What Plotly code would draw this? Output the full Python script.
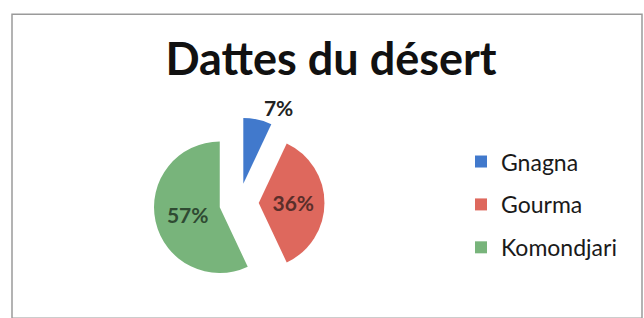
import plotly.graph_objects as go

# ---- data ----
labels = ["Gnagna", "Gourma", "Komondjari"]
values = [7, 36, 57]
colors = ["#4179CC", "#DE685D", "#78B47B"]
text_colors = ["#222222", "#5a2e2a", "#2f4a32"]
text_positions = ["outside", "inside", "inside"]
title_text = "Dattes du désert"

W, H = 644, 318
FONT = "Lato"

# pie geometry (pixels): centre and radius
CX, CY, R, PULL = 239, 213, 69, 0.3
half = R * (1 + PULL)

fig = go.Figure()

fig.add_trace(go.Pie(
    labels=labels,
    values=values,
    sort=False,
    direction="clockwise",
    rotation=0,
    pull=[PULL] * len(values),
    marker=dict(colors=colors, line=dict(width=0)),
    texttemplate="%{percent:.0%}",
    textposition=text_positions,
    textfont=dict(family=FONT, size=21, color=text_colors, weight="bold"),
    insidetextorientation="horizontal",
    showlegend=False,
    domain=dict(x=[(CX - half) / W, (CX + half) / W],
                y=[1 - (CY + half) / H, 1 - (CY - half) / H]),
    hoverinfo="label+percent",
))

# legend entries built from the same categories / colours
for lab, col in zip(labels, colors):
    fig.add_trace(go.Scatter(
        x=[None], y=[None], mode="markers", name=lab, legendgroup=lab,
        marker=dict(symbol="square", size=12, color=col),
    ))

fig.update_layout(
    width=W, height=H,
    margin=dict(l=0, r=0, t=0, b=0),
    paper_bgcolor="white", plot_bgcolor="white",
    title=dict(text=f"<b>{title_text}</b>", x=331 / W, xanchor="center",
               y=1 - 59 / H, yanchor="middle", yref="container",
               font=dict(family=FONT, size=45, color="#111111")),
    xaxis=dict(visible=False), yaxis=dict(visible=False),
    legend=dict(x=461 / W, xanchor="left", y=1 - 147 / H, yanchor="top",
                font=dict(family=FONT, size=23, color="#1a1a1a"),
                tracegroupgap=10, bgcolor="rgba(0,0,0,0)"),
    shapes=[dict(type="rect", xref="paper", yref="paper",
                 x0=12 / W, x1=642 / W, y0=-0.05, y1=1 - 15 / H,
                 line=dict(color="#9a9a9a", width=1.5), fillcolor="rgba(0,0,0,0)",
                 layer="below")],
)

fig.write_html("out.html",
               config={"displayModeBar": False},
               post_script="document.body.style.margin='0';document.body.style.overflow='hidden';")
